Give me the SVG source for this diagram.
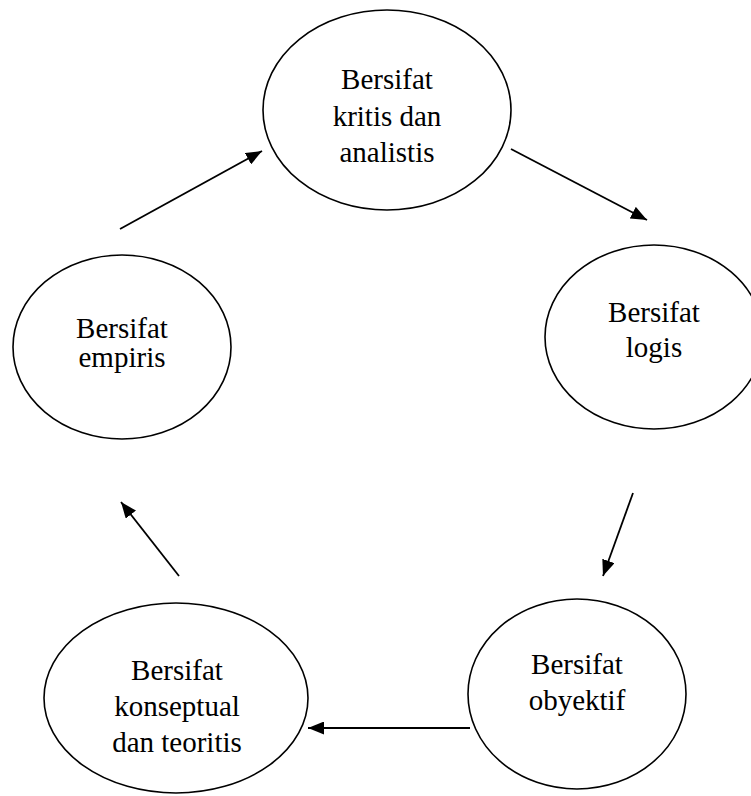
<svg xmlns="http://www.w3.org/2000/svg" width="751" height="796" viewBox="0 0 751 796">
  <style>
    .node ellipse { fill: #ffffff; stroke: #000000; stroke-width: 1.6; }
    .node text { font-family: "Liberation Serif", "Times New Roman", serif; font-size: 29px; fill: #000000; text-anchor: middle; }
    .edge { stroke: #000000; stroke-width: 1.8; fill: none; marker-end: url(#head); }
  </style>
  <defs>
    <marker id="head" markerUnits="userSpaceOnUse" markerWidth="17" markerHeight="13" refX="16" refY="6.5" orient="auto">
      <path d="M0,0 L16,6.5 L0,13 z" fill="#000000"/>
    </marker>
  </defs>
  <rect width="751" height="796" fill="#ffffff"/>

  <!-- cycle connectors -->
  <g id="connectors">
    <line class="edge" x1="120" y1="229" x2="262" y2="151"/>
    <line class="edge" x1="511" y1="149" x2="647" y2="220"/>
    <line class="edge" x1="633" y1="493" x2="603" y2="576"/>
    <line class="edge" x1="470" y1="728" x2="308" y2="728"/>
    <line class="edge" x1="179" y1="576" x2="121" y2="502"/>
  </g>

  <g id="kritis" class="node">
    <ellipse cx="387" cy="110" rx="124" ry="100"/>
    <text x="387" y="89">Bersifat</text>
    <text x="387" y="126">kritis dan</text>
    <text x="387" y="162">analistis</text>
  </g>

  <g id="logis" class="node">
    <ellipse cx="654" cy="337" rx="109" ry="92"/>
    <text x="654" y="322">Bersifat</text>
    <text x="654" y="357">logis</text>
  </g>

  <g id="obyektif" class="node">
    <ellipse cx="577" cy="694" rx="109" ry="95"/>
    <text x="577" y="674">Bersifat</text>
    <text x="577" y="710">obyektif</text>
  </g>

  <g id="konseptual" class="node">
    <ellipse cx="176" cy="698" rx="132" ry="95"/>
    <text x="177" y="680">Bersifat</text>
    <text x="177" y="716">konseptual</text>
    <text x="177" y="752">dan teoritis</text>
  </g>

  <g id="empiris" class="node">
    <ellipse cx="122" cy="347" rx="109" ry="92"/>
    <text x="122" y="338">Bersifat</text>
    <text x="122" y="367">empiris</text>
  </g>
</svg>
